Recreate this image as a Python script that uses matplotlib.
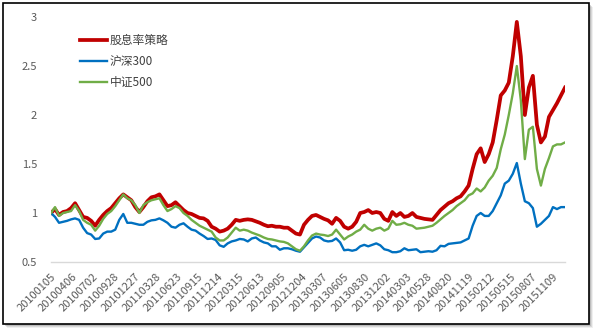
import numpy as np
import matplotlib.pyplot as plt
from matplotlib.patches import Rectangle

plt.rcParams['font.family'] = ['Noto Sans CJK SC', 'DejaVu Sans']

# trading-day axis and its category labels (one label every 59 sessions)
n_days = 1452
label_step = 59
date_labels = ['20100105', '20100406', '20100702', '20100928', '20101227',
               '20110328', '20110623', '20110915', '20111214', '20120315',
               '20120613', '20120905', '20121204', '20130307', '20130605',
               '20130830', '20131202', '20140303', '20140528', '20140820',
               '20141119', '20150212', '20150515', '20150807', '20151109']

# net value, sampled evenly over the trading days
dividend = [1.0, 1.04, 0.98, 1.01, 1.02, 1.05, 1.1, 1.03, 0.96, 0.95,
            0.92, 0.87, 0.93, 0.98, 1.02, 1.05, 1.1, 1.15, 1.19, 1.16,
            1.13, 1.06, 1.01, 1.06, 1.12, 1.16, 1.17, 1.19, 1.13, 1.07,
            1.08, 1.11, 1.07, 1.03, 1.0, 0.99, 0.97, 0.95, 0.945, 0.92,
            0.86, 0.84, 0.81, 0.82, 0.84, 0.88, 0.93, 0.92, 0.93, 0.935,
            0.93, 0.915, 0.9, 0.88, 0.865, 0.87, 0.86, 0.86, 0.85, 0.85,
            0.82, 0.79, 0.78, 0.88, 0.93, 0.97, 0.98, 0.96, 0.94, 0.925,
            0.89, 0.95, 0.92, 0.86, 0.84, 0.86, 0.91, 1.0, 1.01, 1.03,
            1.0, 1.01, 1.0, 0.94, 0.92, 1.01, 0.97, 1.0, 0.96, 0.97,
            1.0, 0.96, 0.95, 0.94, 0.935, 0.93, 0.98, 1.03, 1.065, 1.1,
            1.12, 1.15, 1.17, 1.22, 1.28, 1.45, 1.6, 1.66, 1.52, 1.6,
            1.72, 1.95, 2.2, 2.25, 2.33, 2.6, 2.95, 2.6, 2.0, 2.28,
            2.4, 1.9, 1.72, 1.78, 1.98, 2.05, 2.12, 2.2, 2.28]

hs300 = [1.0, 0.96, 0.9, 0.91, 0.92, 0.935, 0.945, 0.93, 0.85, 0.795,
         0.78, 0.735, 0.74, 0.79, 0.81, 0.81, 0.83, 0.93, 0.99, 0.9,
         0.9, 0.89, 0.88, 0.88, 0.91, 0.925, 0.93, 0.945, 0.925, 0.9,
         0.86, 0.85, 0.88, 0.895, 0.86, 0.83, 0.82, 0.79, 0.765, 0.735,
         0.74, 0.725, 0.67, 0.655, 0.69, 0.71, 0.72, 0.735, 0.73, 0.71,
         0.74, 0.75, 0.72, 0.7, 0.69, 0.66, 0.66, 0.625, 0.64, 0.64,
         0.63, 0.615, 0.605, 0.65, 0.695, 0.74, 0.76, 0.75, 0.72, 0.71,
         0.715, 0.74, 0.7, 0.62, 0.625, 0.615, 0.625, 0.66, 0.675, 0.66,
         0.675, 0.69, 0.67, 0.63, 0.62, 0.6, 0.6, 0.61, 0.64, 0.62,
         0.625, 0.63, 0.6, 0.605, 0.61, 0.605, 0.62, 0.665, 0.66, 0.685,
         0.69, 0.695, 0.7, 0.72, 0.74, 0.87, 0.97, 1.0, 0.97, 0.97,
         1.02, 1.1, 1.18, 1.3, 1.33, 1.4, 1.51, 1.3, 1.12, 1.1,
         1.05, 0.86, 0.89, 0.93, 0.97, 1.06, 1.04, 1.06, 1.06]

csi500 = [1.0, 1.06, 0.97, 1.0, 1.01, 1.02, 1.08, 1.02, 0.93, 0.9,
          0.88, 0.82, 0.87, 0.94, 0.99, 1.02, 1.07, 1.13, 1.19, 1.15,
          1.13, 1.08, 1.0, 1.08, 1.11, 1.13, 1.14, 1.15, 1.08, 1.02,
          1.04, 1.07, 1.05, 1.0, 0.97, 0.93, 0.9, 0.87, 0.85, 0.83,
          0.81, 0.75, 0.72, 0.72, 0.75, 0.8, 0.85, 0.82, 0.83, 0.82,
          0.8, 0.785, 0.77, 0.75, 0.735, 0.73, 0.72, 0.71, 0.705, 0.69,
          0.66, 0.63, 0.615, 0.66, 0.72, 0.77, 0.79, 0.78, 0.775, 0.765,
          0.78, 0.83, 0.78, 0.73, 0.76, 0.78, 0.81, 0.83, 0.88, 0.84,
          0.82, 0.84, 0.85, 0.82, 0.84, 0.92, 0.88, 0.885, 0.9, 0.88,
          0.87, 0.84, 0.845, 0.85, 0.86, 0.87, 0.9, 0.935, 0.97, 1.0,
          1.03, 1.07, 1.1, 1.13, 1.18, 1.2, 1.25, 1.22, 1.26, 1.33,
          1.38, 1.46, 1.65, 1.8, 2.0, 2.22, 2.5, 2.15, 1.55, 1.85,
          1.88, 1.45, 1.28, 1.45, 1.56, 1.68, 1.7, 1.7, 1.72]

series_names = ['股息率策略', '沪深300', '中证500']
series_colors = ['#C00000', '#0070C0', '#70AD47']
series_widths = [2.7, 1.7, 1.7]

fig = plt.figure(figsize=(5.98, 3.33), dpi=100)

# chart-area border with a soft drop shadow
W, H = 598, 333
for off, a in [(4, 0.12), (3, 0.2), (2, 0.3)]:
    fig.patches.append(Rectangle(((3 + off) / W, (9 - off) / H), 586 / W, 321 / H,
                                 transform=fig.transFigure, facecolor='#808080',
                                 edgecolor='none', alpha=a, zorder=-2))
fig.patches.append(Rectangle((3 / W, 9 / H), 586 / W, 321 / H,
                             transform=fig.transFigure, facecolor='white',
                             edgecolor='black', linewidth=1.2, zorder=-1))

ax = fig.add_axes([51 / W, 71 / H, 514 / W, 245 / H])
ax.set_zorder(2)
ax.set_facecolor('none')

for vals, name, c, lw in zip([dividend, hs300, csi500], series_names,
                             series_colors, series_widths):
    x = np.linspace(0, n_days - 1, len(vals))
    ax.plot(x, vals, color=c, linewidth=lw, label=name, solid_joinstyle='round')

ax.set_xlim(0, n_days - 1)
ax.set_ylim(0.5, 3)
ax.set_yticks([0.5, 1, 1.5, 2, 2.5, 3])
ax.set_yticklabels(['0.5', '1', '1.5', '2', '2.5', '3'])
ax.set_xticks(np.arange(len(date_labels)) * label_step)
ax.set_xticklabels(date_labels, rotation=45, ha='right', va='top',
                   rotation_mode='anchor')

for s in ['top', 'right', 'left']:
    ax.spines[s].set_visible(False)
ax.spines['bottom'].set_color('#D9D9D9')
ax.spines['bottom'].set_linewidth(1.0)
ax.tick_params(axis='both', length=0, colors='#595959', labelsize=8)
ax.tick_params(axis='y', pad=10)
ax.tick_params(axis='x', pad=7)

leg = ax.legend(loc='upper left', bbox_to_anchor=(0.045, 0.955), frameon=False,
                borderpad=0, handlelength=2.3, handletextpad=0.2,
                labelspacing=0.7, fontsize=8.5)
for t in leg.get_texts():
    t.set_color('#404040')

fig.savefig('out.png', dpi=100)
